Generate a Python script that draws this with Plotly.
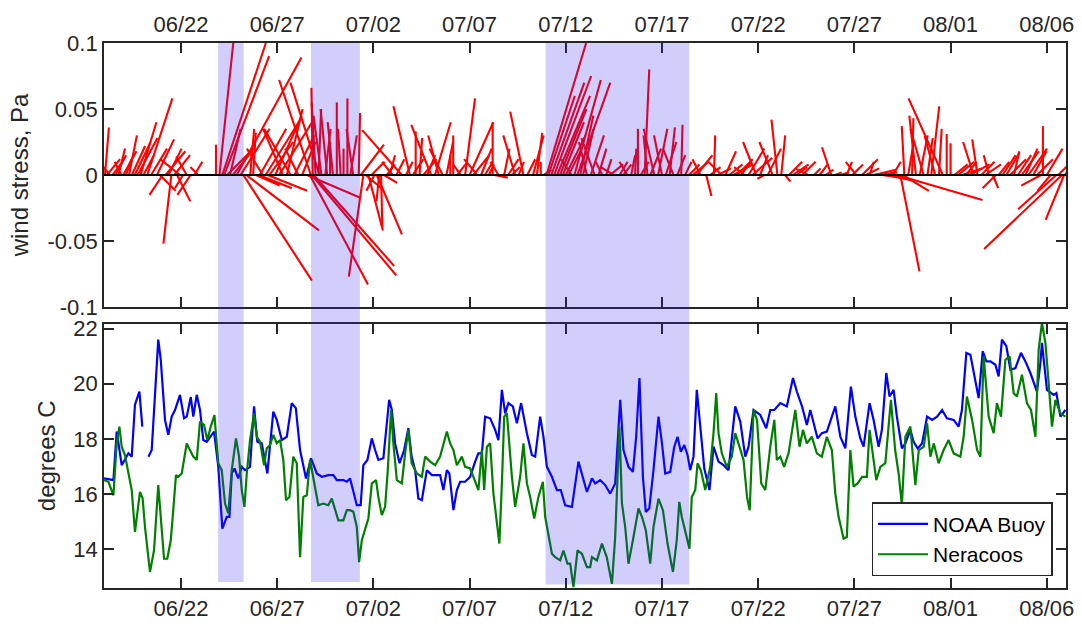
import pandas as pd
import plotly.graph_objects as go

# ---------------- data ----------------
START = "2014-06-18"          # origin of the day offsets below
END_DAY = 50.0                # axis end (Aug 7)

# wind stress sticks: time (days since START), east (u) and north (v) stress, Pa
stick_day = [0.05, 0.15, 0.3, 0.45, 0.6, 0.75, 0.9, 1.0, 1.15, 1.3, 1.45, 1.6, 1.75, 1.9, 2.05, 2.25, 2.45, 2.75,
             2.9, 3.05, 3.2, 3.35, 3.5, 3.65, 3.8, 3.95, 4.1, 4.3, 4.5, 4.7, 4.9, 5.82, 6.0, 6.15, 6.25, 6.4, 6.55,
             6.7, 6.9, 7.1, 7.24, 7.4, 7.6, 7.75, 7.9, 8.05, 8.1, 8.25, 8.4, 8.5, 8.6, 8.9, 9.1, 9.3, 9.5, 9.7, 9.9,
             10.1, 10.3, 10.55, 10.7, 10.75, 10.8, 10.85, 10.9, 11.0, 11.15, 11.2, 11.3, 11.5, 11.6, 11.75, 11.9,
             12.1, 12.3, 12.45, 12.65, 12.8, 12.95, 13.24, 13.35, 13.48, 13.6, 13.74, 13.9, 14.05, 14.18, 14.3,
             14.4, 14.55, 14.7, 14.85, 15.0, 15.2, 15.48, 15.7, 15.9, 16.05, 16.2, 16.4, 16.6, 16.8, 17.0, 17.2,
             17.4, 17.6, 17.8, 18.0, 18.15, 18.35, 18.55, 18.77, 19.0, 19.2, 19.4, 19.6, 19.8, 20.0, 20.2, 20.3,
             20.5, 20.8, 21.0, 21.2, 21.37, 21.55, 21.8, 22.0, 22.3, 22.5, 22.7, 22.85, 23.0, 23.1, 23.25, 23.4,
             23.55, 23.7, 23.85, 24.0, 24.15, 24.3, 24.45, 24.6, 24.75, 24.9, 25.1, 25.3, 25.5, 25.7, 25.9, 26.1,
             26.3, 26.5, 26.8, 27.0, 27.2, 27.4, 27.6, 27.75, 27.9, 28.1, 28.25, 28.4, 28.6, 28.8, 29.0, 29.2,
             29.4, 29.6, 29.8, 30.0, 30.2, 30.4, 30.6, 30.8, 31.0, 31.3, 31.5, 31.7, 31.9, 32.1, 32.3, 32.5, 32.7,
             32.9, 33.1, 33.3, 33.5, 33.7, 33.9, 34.1, 34.3, 34.5, 34.75, 35.0, 35.2, 35.4, 35.6, 35.8, 36.0, 36.3,
             36.6, 36.9, 37.2, 37.5, 37.8, 38.0, 38.3, 38.6, 38.9, 39.1, 39.4, 39.6, 39.8, 40.0, 40.2, 40.4, 40.6,
             40.8, 41.0, 41.2, 41.39, 41.5, 41.6, 41.8, 42.0, 42.2, 42.4, 42.6, 42.8, 43.0, 43.2, 43.4, 43.6, 43.8,
             44.0, 44.2, 44.4, 44.6, 44.8, 45.0, 45.2, 45.4, 45.6, 45.8, 46.0, 46.2, 46.35, 46.5, 46.7, 46.9, 47.1,
             47.3, 47.5, 47.7, 47.9, 48.05, 48.3, 48.5, 48.7, 48.8, 49.0, 49.2, 49.5, 49.6, 49.79, 49.9, 49.95]
stick_u = [0.003, 0.01, -0.008, 0.006, 0.008, 0.005, -0.005, 0.01, 0.004, 0.006, 0.01, 0.012, 0.015, 0.012, 0.008,
           0.019, 0.012, 0.013, 0.012, -0.01, 0.015, 0.01, -0.006, 0.012, 0.01, -0.015, -0.006, -0.008, -0.01, 0.006,
           -0.006, 0.0, 0.011, 0.033, 0.034, 0.02, 0.008, 0.012, 0.049, 0.022, 0.052, 0.055, 0.003, 0.002, 0.018,
           0.025, 0.02, -0.012, 0.025, 0.03, 0.018, 0.02, 0.025, -0.015, 0.012, -0.02, 0.015, -0.01, 0.01, 0.04,
           0.044, -0.024, 0.064, -0.001, 0.061, -0.003, 0.002, -0.022, -0.006, 0.004, -0.005, 0.0, -0.004, 0.0,
           -0.002, 0.0, 0.0, 0.005, -0.005, 0.001, 0.0175, -0.011, 0.012, 0.011, 0.01, -0.006, 0.019, -0.002, 0.001,
           0.01, 0.006, 0.004, -0.008, 0.006, -0.03, 0.005, -0.0125, 0.008, 0.0, 0.002, 0.01, 0.006, -0.015, 0.012,
           -0.008, -0.01, 0.005, 0.0, 0.0, 0.008, -0.006, 0.0075, 0.018, 0.012, -0.01, 0.008, 0.006, 0.004, 0.0,
           0.01, -0.006, 0.004, 0.008, 0.006, -0.009, 0.004, -0.01, 0.006, 0.008, 0.004, 0.0, 0.006, 0.03, 0.02,
           0.025, 0.028, 0.025, 0.02, 0.016, 0.015, 0.01, -0.008, 0.02, 0.025, 0.01, 0.008, -0.006, 0.01, -0.01,
           0.006, -0.005, 0.004, 0.01, -0.01, 0.006, 0.006, -0.006, 0.003, 0.001, 0.0, 0.006, 0.0035, -0.003, 0.008,
           -0.008, 0.007, -0.006, 0.008, 0.004, -0.008, 0.006, 0.001, 0.005, 0.008, 0.012, 0.012, -0.006, 0.004,
           0.008, 0.001, 0.01, -0.01, 0.008, 0.01, 0.015, 0.012, 0.008, -0.008, 0.012, 0.015, -0.01, 0.006, -0.005,
           0.01, -0.01, -0.0045, 0.003, 0.004, 0.01, 0.012, 0.008, 0.01, -0.01, 0.005, 0.006, 0.006, -0.007, 0.005,
           0.006, 0.004, 0.008, -0.008, 0.012, 0.01, 0.003, 0.017, 0.015, 0.02, 0.02, 0.018, 0.006, 0.065, 0.0145,
           0.02, -0.002, 0.004, 0.001, -0.005, 0.006, -0.01, 0.004, 0.006, -0.008, 0.002, -0.026, 0.0, 0.0, 0.01,
           0.012, 0.015, 0.008, 0.015, -0.008, -0.004, 0.01, 0.012, -0.004, 0.004, -0.01, 0.008, 0.01, 0.01, 0.012,
           0.004, 0.01, 0.013, 0.009, 0.014, 0.01, 0.012, -0.015, 0.0, 0.012, -0.01, -0.029, 0.015, -0.059, -0.014,
           0.008]
stick_v = [0.036, 0.012, 0.01, 0.008, 0.015, 0.02, 0.01, 0.018, 0.012, 0.03, 0.022, 0.025, 0.028, 0.04, 0.015,
           0.058, 0.02, 0.027, -0.012, -0.015, 0.018, 0.02, -0.052, 0.015, -0.02, 0.012, -0.01, 0.014, -0.015, 0.01,
           0.006, 0.023, 0.105, 0.1, 0.09, 0.02, 0.035, 0.015, 0.089, 0.035, -0.08, -0.042, 0.035, 0.032, -0.008,
           -0.01, 0.035, 0.02, 0.04, -0.012, 0.025, 0.045, 0.04, 0.035, 0.05, 0.035, 0.03, 0.02, 0.025, -0.017,
           -0.083, 0.072, -0.076, 0.066, -0.069, 0.055, 0.05, 0.07, 0.045, 0.035, 0.05, 0.025, 0.04, 0.055, 0.035,
           0.02, 0.058, 0.03, 0.035, 0.047, 0.023, -0.077, -0.01, -0.042, 0.01, -0.012, -0.045, -0.02, -0.04,
           -0.006, 0.008, 0.015, 0.01, 0.012, 0.034, 0.01, 0.052, 0.012, 0.033, 0.028, 0.012, 0.015, 0.038, 0.04,
           0.03, 0.02, 0.025, 0.015, 0.03, 0.01, 0.008, 0.058, 0.04, 0.015, 0.012, 0.02, 0.01, 0.008, 0.04, -0.002,
           0.01, 0.02, 0.012, 0.006, 0.03, 0.01, 0.048, 0.012, 0.03, 0.032, 0.01, 0.004, 0.1, 0.06, 0.07, 0.075,
           0.06, 0.05, 0.04, 0.03, 0.02, 0.012, 0.072, 0.07, 0.045, 0.035, 0.025, 0.03, 0.028, 0.02, 0.01, 0.012,
           0.008, 0.006, 0.01, 0.008, 0.01, 0.015, 0.02, 0.035, 0.01, 0.08, 0.03, 0.02, 0.035, 0.035, 0.03, 0.025,
           0.036, 0.02, 0.015, 0.038, 0.01, 0.008, 0.01, 0.015, 0.012, -0.016, 0.006, 0.03, 0.005, 0.01, 0.018,
           0.008, 0.008, 0.012, 0.01, 0.006, 0.02, 0.013, 0.025, 0.015, -0.003, 0.02, 0.025, 0.042, 0.03, -0.005,
           0.01, 0.008, 0.006, 0.01, 0.005, 0.005, 0.008, 0.004, 0.021, 0.002, 0.002, 0.01, 0.008, 0.01, 0.012,
           0.005, 0.01, 0.004, 0.002, -0.002, -0.004, -0.004, 0.01, -0.019, -0.073, -0.012, 0.037, 0.024, 0.043,
           0.045, 0.03, 0.035, 0.028, 0.052, 0.03, 0.035, 0.058, 0.031, 0.024, 0.008, 0.01, 0.005, 0.01, 0.008,
           0.025, 0.027, 0.01, 0.008, 0.015, -0.01, -0.01, 0.01, 0.015, 0.017, 0.012, 0.018, 0.015, 0.018, 0.02,
           0.02, 0.018, 0.012, -0.008, 0.037, 0.02, -0.012, -0.026, 0.015, -0.056, -0.034, 0.013]

# water temperature, degrees C (None = missing data)
buoy_day = [0.0, 0.49, 0.66, 0.92, 1.27, 1.44, 1.61, 1.84, 1.99, 2.15, 2.31, 2.48, 2.82, 2.95, 3.17, 3.34, 3.52, 3.69,
            3.95, 4.16, 4.30, 4.51, 4.64, 4.82, 4.99, 5.16, 5.34, 5.51, 5.72, 5.94, 6.15, 6.38, 6.52, 6.64, 6.78,
            6.98, 7.16, 7.33, 7.59, 7.80, 7.97, 8.20, 8.37, 8.49, 8.80, 8.98, 9.24, 9.50, 9.76, 9.97, 10.19, 10.50,
            10.76, 11.06, 11.32, 11.66, 11.92, 12.10, 12.44, 12.62, 12.79, 13.14, 13.34, 13.48, 13.69, 13.92, 14.09,
            14.26, 14.52, 14.82, 14.96, 15.13, 15.36, 15.60, 15.82, 15.99, 16.17, 16.34, 16.52, 16.78, 17.04, 17.47,
            17.64, 17.82, 17.95, 18.16, 18.34, 18.51, 18.77, 19.03, 19.29, 19.46, 19.64, 19.81, 20.07, 20.33, 20.50,
            20.68, 20.85, 21.02, 21.25, 21.46, 21.68, 21.98, 22.24, 22.41, 22.67, 22.84, 23.02, 23.28, 23.54, 23.74,
            23.97, 24.32, 24.66, 24.89, 25.10, 25.27, 25.36, 25.53, 25.79, 26.05, 26.31, 26.57, 26.83, 27.00, 27.26,
            27.49, 27.66, 27.83, 28.01, 28.16, 28.34, 28.56, 28.82, 29.00, 29.17, 29.43, 29.64, 29.81, 29.98, 30.16,
            30.33, 30.47, 30.64, 30.81, 30.99, 31.20, 31.47, 31.68, 31.94, 32.20, 32.46, 32.63, 32.81, 33.07, 33.33,
            33.50, 33.76, 34.11, 34.42, 34.63, 34.84, 35.15, 35.49, 35.81, 36.01, 36.28, 36.53, 36.71, 36.88, 37.09,
            37.31, 37.57, 38.01, 38.27, 38.53, 38.82, 39.05, 39.31, 39.48, 39.79, 40.00, 40.26, 40.43, 40.66, 40.83,
            41.04, 41.21, 41.47, 41.65, 41.91, 42.08, 42.29, 42.52, 42.78, 43.04, 43.30, 43.56, 43.81, 44.16, 44.42,
            44.59, 44.82, 45.03, 45.24, 45.46, 45.67, 45.86, 46.07, 46.33, 46.50, 46.67, 46.90, 47.11, 47.37, 47.66,
            47.89, 48.15, 48.49, 48.67, 48.75, 49.01, 49.36, 49.50, 49.71, 49.97]
buoy_temp = [16.57, 16.51, 18.27, 17.05, 17.48, 17.36, 19.24, 19.72, 18.45, None, 17.36, 17.60, 21.60, 20.87, 18.69,
             18.15, 18.81, 19.05, 19.60, 18.75, 18.81, 19.52, 18.81, 19.60, 19.05, 17.96, 17.90, 18.08, 18.27, 16.99,
             14.75, 15.18, 15.18, 16.75, 16.93, 16.57, 16.99, 16.87, 16.99, 19.18, 17.90, 17.84, 17.12, 16.75, 18.99,
             18.69, 17.96, 18.08, 19.30, 19.12, 17.60, 16.57, 17.30, 16.75, 16.63, 16.69, 16.69, 16.51, 16.51, 16.45,
             16.57, 15.60, 15.60, 17.05, 17.24, 18.02, 17.60, 17.24, 17.30, 19.42, 19.05, 17.84, 17.12, 17.60, 18.39,
             17.36, 16.87, 15.84, 15.78, 16.87, 16.69, 16.69, 16.15, 16.87, 16.75, 15.42, 16.15, 16.45, 16.45, 16.63,
             17.18, 17.48, 17.48, 18.81, 18.75, 18.33, 17.96, 19.78, 18.93, 19.30, 19.18, 18.57, 19.30, 18.21, 17.42,
             17.36, 18.81, 18.08, 16.99, 16.63, 16.15, 16.15, 15.60, 15.54, 17.18, 16.63, 16.08, 16.39, 16.57, 16.39,
             16.51, 16.33, 16.02, 16.39, 19.42, 17.60, 16.99, 16.81, 18.08, 20.21, 16.63, 15.36, 15.48, 16.87, 18.81,
             17.84, 16.75, 16.81, 17.72, 18.08, 17.54, 17.78, 17.42, 16.87, 17.36, 19.78, 18.45, 16.93, 16.15, 17.72,
             17.18, 17.05, 16.87, 17.96, 19.18, 18.63, 17.36, 17.72, 19.05, 18.87, 18.39, 19.05, 19.05, 19.30, 19.18,
             20.21, 19.72, 19.18, 18.51, 19.05, 18.57, 18.02, 18.21, 18.27, 19.18, 18.08, 17.66, 19.90, 18.81, 18.02,
             17.72, 19.30, 18.69, 17.72, 18.33, 20.39, 19.54, 19.78, 18.81, 17.66, 17.84, 18.33, 17.90, 17.66, 17.84,
             18.81, 18.69, 18.81, 19.05, 18.75, 18.69, 18.45, 19.05, 21.12, 21.05, 20.27, 19.48, 21.18, 20.81, 20.81,
             20.69, 20.27, 21.60, 21.36, 20.51, 20.57, 21.12, 20.81, 20.39, 19.72, 20.75, 21.48, 19.78, 19.60, 19.66,
             18.81, 19.05]

nera_day = [0.0, 0.23, 0.49, 0.66, 0.80, 0.92, 1.09, 1.27, 1.44, 1.61, 1.75, 1.87, 2.01, 2.13, 2.39, 2.60, 2.82, 2.96,
            3.12, 3.29, 3.47, 3.60, 3.74, 3.86, 4.04, 4.30, 4.47, 4.64, 4.82, 4.99, 5.20, 5.37, 5.55, 5.74, 5.94,
            6.12, 6.29, 6.46, 6.64, 6.86, 7.02, 7.16, 7.30, 7.42, 7.59, 7.80, 7.94, 8.11, 8.32, 8.46, 8.63, 8.80,
            8.98, 9.15, 9.32, 9.46, 9.64, 9.84, 10.02, 10.19, 10.36, 10.54, 10.71, 10.92, 11.14, 11.40, 11.66, 11.84,
            12.01, 12.18, 12.44, 12.62, 12.79, 12.96, 13.14, 13.26, 13.40, 13.57, 13.74, 13.92, 14.14, 14.26, 14.44,
            14.61, 14.75, 14.92, 15.04, 15.22, 15.48, 15.65, 15.82, 15.99, 16.26, 16.52, 16.69, 16.95, 17.21, 17.47,
            17.73, 17.82, 17.99, 18.16, 18.34, 18.60, 18.77, 19.03, 19.20, 19.46, 19.64, 19.76, 19.90, 20.07, 20.24,
            20.42, 20.55, 20.68, 20.80, 20.94, 21.07, 21.20, 21.37, 21.63, 21.80, 21.98, 22.15, 22.36, 22.58, 22.81,
            22.93, 23.10, 23.28, 23.45, 23.71, 23.88, 24.09, 24.23, 24.40, 24.61, 24.84, 25.10, 25.27, 25.36, 25.62,
            25.88, 26.13, 26.40, 26.57, 26.79, 26.92, 27.09, 27.26, 27.52, 27.78, 27.96, 28.16, 28.39, 28.56, 28.82,
            29.05, 29.29, 29.57, 29.77, 29.90, 30.03, 30.21, 30.43, 30.55, 30.73, 30.85, 31.02, 31.25, 31.51, 31.68,
            31.82, 31.94, 32.11, 32.37, 32.63, 32.81, 33.07, 33.24, 33.42, 33.56, 33.76, 33.94, 34.16, 34.37, 34.63,
            34.84, 34.97, 35.15, 35.35, 35.58, 35.93, 36.15, 36.33, 36.53, 36.79, 37.05, 37.31, 37.57, 37.83, 38.01,
            38.18, 38.44, 38.61, 38.79, 38.96, 39.17, 39.40, 39.65, 39.79, 39.96, 40.14, 40.35, 40.61, 40.90, 41.12,
            41.30, 41.47, 41.65, 41.91, 42.17, 42.35, 42.61, 42.78, 42.95, 43.13, 43.38, 43.64, 43.90, 44.16, 44.51,
            44.68, 44.85, 45.12, 45.38, 45.55, 45.72, 45.98, 46.24, 46.41, 46.62, 46.85, 47.07, 47.28, 47.45, 47.71,
            47.97, 48.18, 48.41, 48.58, 48.75, 48.93, 49.10, 49.27, 49.45, 49.71, 49.97]
nera_temp = [16.51, 16.45, 15.96, 17.84, 18.45, 17.72, 17.42, 16.75, 16.15, 14.63, 15.42, 16.08, 15.84, 14.81, 13.18,
             13.96, 16.33, 15.18, 13.66, 13.66, 14.33, 15.42, 16.69, 16.63, 16.75, 17.84, 17.60, 17.36, 17.24, 18.63,
             18.51, 17.96, 18.45, 18.87, 17.12, 16.87, 15.66, 15.30, 16.87, 18.02, 17.36, 16.15, 15.54, 16.75, 17.96,
             18.93, 18.08, 17.90, 17.05, 17.66, 17.78, 18.15, 17.84, 17.96, 17.24, 15.78, 15.90, 17.36, 17.12, 13.72,
             15.90, 15.96, 17.24, 16.39, 15.60, 15.66, 15.60, 15.84, 15.42, 15.05, 15.05, 15.42, 15.42, 15.36, 14.81,
             13.54, 14.33, 14.69, 15.12, 16.39, 16.51, 15.90, 15.24, 15.54, 16.87, 19.05, 17.84, 16.51, 16.39, 17.48,
             18.33, 17.12, 16.75, 16.63, 17.36, 17.18, 17.05, 17.36, 18.08, 18.27, 17.84, 17.60, 17.05, 17.36, 16.99,
             16.93, 16.63, 16.15, 17.60, 16.15, 17.72, 17.84, 16.02, 15.05, 14.21, 16.39, 18.81, 18.93, 17.84, 16.63,
             15.54, 16.63, 17.84, 16.39, 15.90, 15.12, 15.90, 16.45, 15.18, 14.45, 13.84, 13.72, 13.60, 13.96, 13.48,
             13.48, 12.63, 13.96, 13.84, 13.36, 13.36, 13.72, 13.60, 14.21, 13.72, 12.75, 14.45, 18.45, 15.66, 14.81,
             13.48, 14.45, 15.48, 15.18, 14.69, 13.48, 14.81, 15.84, 15.42, 14.21, 13.18, 14.33, 15.72, 15.18, 14.63,
             14.02, 15.90, 16.15, 17.12, 16.87, 16.15, 16.99, 18.21, 19.66, 18.21, 17.48, 16.99, 17.36, 18.21, 17.60,
             17.24, 15.90, 15.42, 19.05, 18.69, 16.39, 16.15, 17.72, 18.69, 17.24, 17.36, 16.99, 17.48, 19.05, 17.72,
             18.33, 17.84, 18.08, 17.48, 17.36, 18.08, 17.60, 16.02, 15.18, 14.39, 14.45, 17.60, 16.27, 16.39, 16.63,
             16.63, 18.33, 17.48, 16.51, 16.99, 17.12, 19.42, 17.60, 16.75, 15.60, 18.08, 18.45, 16.33, 17.60, 17.72,
             18.57, 17.36, 17.84, 17.12, 17.60, 17.96, 17.48, 17.36, 18.08, 19.54, 18.69, 17.60, 17.36, 20.99, 18.81,
             18.21, 19.30, 18.81, 20.87, 20.99, 19.66, 19.54, 20.33, 19.30, 19.05, 18.08, 21.24, 22.21, 21.48, 20.02,
             18.45, 19.42, 18.93, 18.81]

# highlighted periods: start day, end day, lower edge of the band (degrees C on the lower axis)
event_start = [5.93, 10.76, 22.95]
event_end = [7.26, 13.30, 30.42]
event_floor = [12.82, 12.82, 12.73]

# tick labels
stress_ticks = [-0.1, -0.05, 0, 0.05, 0.1]
stress_labels = ["-0.1", "-0.05", "0", "0.05", "0.1"]
temp_ticks = [14, 16, 18, 20, 22]
temp_labels = ["14", "16", "18", "20", "22"]
date_tick0 = "2014-06-22"

# ---------------- figure ----------------
W, H = 1082, 629
M_L, M_R, M_T, M_B = 104, 16, 43, 41
TOP_DOM = [0.5156, 1.0]
BOT_DOM = [0.0, 0.4851]
T_RANGE = [12.6, 22.18]
DAYS_PER_PA = 68.6          # horizontal scale of the sticks so angles are drawn true

t0 = pd.Timestamp(START)


def to_time(d):
    return t0 + pd.to_timedelta(d, unit="D")


sx, sy = [], []
for d, u, v in zip(stick_day, stick_u, stick_v):
    sx += [to_time(d), to_time(d + u * DAYS_PER_PA), None]
    sy += [0, v, None]

TXT = "#262626"
FONT = "Liberation Sans, Arial, Helvetica, sans-serif"

fig = go.Figure()
fig.add_trace(go.Scatter(x=sx, y=sy, mode="lines", line=dict(color="#ff0000", width=2.1),
                         xaxis="x", yaxis="y", showlegend=False, hoverinfo="skip"))
fig.add_trace(go.Scatter(x=[to_time(d) for d in buoy_day], y=buoy_temp, mode="lines", name="NOAA Buoy",
                         line=dict(color="#0000ff", width=2.2), xaxis="x2", yaxis="y2", connectgaps=False))
fig.add_trace(go.Scatter(x=[to_time(d) for d in nera_day], y=nera_temp, mode="lines", name="Neracoos",
                         line=dict(color="#007f00", width=2.2), xaxis="x2", yaxis="y2"))

shapes = []
for s, e, fl in zip(event_start, event_end, event_floor):
    y0 = BOT_DOM[0] + (BOT_DOM[1] - BOT_DOM[0]) * (fl - T_RANGE[0]) / (T_RANGE[1] - T_RANGE[0])
    shapes.append(dict(type="rect", xref="x", yref="paper", x0=to_time(s), x1=to_time(e), y0=y0, y1=1.0,
                       fillcolor="rgba(50,30,240,0.22)", line=dict(width=0), layer="above"))
shapes.append(dict(type="line", xref="x domain", yref="y", x0=0, x1=1, y0=0, y1=0,
                   line=dict(color="black", width=2), layer="above"))

xcommon = dict(type="date", range=[t0, to_time(END_DAY)], tick0=date_tick0, dtick=5 * 86400000,
               tickformat="%m/%d", ticks="inside", ticklen=10, tickwidth=1.6, tickcolor=TXT,
               showline=True, linecolor=TXT, linewidth=1.8, mirror="allticks", showgrid=False,
               zeroline=False, tickfont=dict(size=22, color=TXT, family=FONT), domain=[0, 1])
ycommon = dict(ticks="inside", ticklen=10, tickwidth=1.6, tickcolor=TXT, showline=True, linecolor=TXT,
               linewidth=1.8, mirror="allticks", showgrid=False, zeroline=False,
               tickfont=dict(size=22, color=TXT, family=FONT))

fig.update_layout(
    width=W, height=H,
    margin=dict(l=M_L, r=M_R, t=M_T, b=M_B, autoexpand=False),
    paper_bgcolor="white", plot_bgcolor="white",
    font=dict(family=FONT, color=TXT),
    xaxis=dict(xcommon, anchor="y", side="top"),
    xaxis2=dict(xcommon, anchor="y2", side="bottom"),
    yaxis=dict(ycommon, domain=TOP_DOM, anchor="x", range=[-0.1, 0.1], tickvals=stress_ticks,
               ticktext=stress_labels,
               title=dict(text="wind stress, Pa", font=dict(size=24, color=TXT, family=FONT), standoff=12)),
    yaxis2=dict(ycommon, domain=BOT_DOM, anchor="x2", range=T_RANGE, tickvals=temp_ticks, ticktext=temp_labels,
                title=dict(text="degrees C", font=dict(size=24, color=TXT, family=FONT), standoff=11)),
    shapes=shapes,
    showlegend=True,
    legend=dict(x=0.986, y=0.0215, xanchor="right", yanchor="bottom", bgcolor="white",
                bordercolor=TXT, borderwidth=1.5, font=dict(size=21, color="black", family=FONT),
                tracegroupgap=0, itemwidth=50),
)

fig.write_html("out.html")
